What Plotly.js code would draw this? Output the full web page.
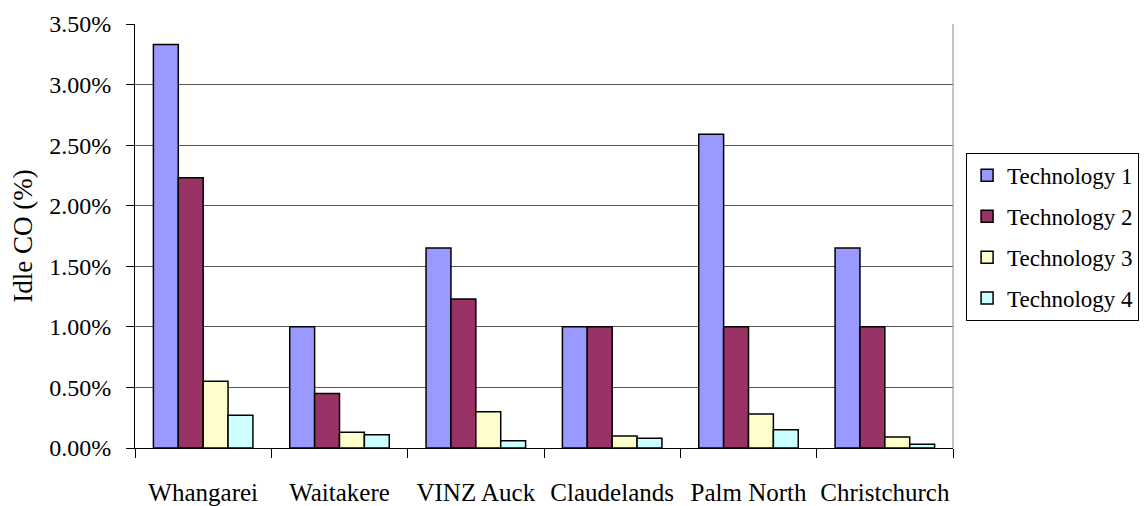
<!DOCTYPE html>
<html>
<head>
<meta charset="utf-8">
<script src="https://cdn.plot.ly/plotly-3.0.1.min.js"></script>
<style>html,body{margin:0;padding:0;background:#fff;}#chart{width:1145px;height:506px;}</style>
</head>
<body>
<div id="chart"></div>
<script>
const sites = ["Whangarei", "Waitakere", "VINZ Auck", "Claudelands", "Palm North", "Christchurch"];
const seriesNames = ["Technology 1", "Technology 2", "Technology 3", "Technology 4"];
const tech1 = [0.0333, 0.0100, 0.0165, 0.0100, 0.0259, 0.0165];
const tech2 = [0.0223, 0.0045, 0.0123, 0.0100, 0.0100, 0.0100];
const tech3 = [0.0055, 0.0013, 0.0030, 0.0010, 0.0028, 0.0009];
const tech4 = [0.0027, 0.0011, 0.0006, 0.0008, 0.0015, 0.0003];
const yTicks = [0, 0.005, 0.01, 0.015, 0.02, 0.025, 0.03, 0.035];
const colors = ["#9999FF", "#993366", "#FFFFCC", "#CCFFFF"];

const values = [tech1, tech2, tech3, tech4];
const font = "Liberation Serif";
const traces = values.map((v, i) => ({
  type: "bar",
  name: seriesNames[i],
  x: sites,
  y: v,
  legendgroup: "g" + i,
  marker: {color: colors[i], line: {color: "#000", width: 1.5}},
  hoverinfo: "x+y"
}));

const layout = {
  width: 1145, height: 506,
  margin: {l: 135, r: 192, t: 24, b: 58, autoexpand: false},
  paper_bgcolor: "#fff", plot_bgcolor: "#fff",
  barmode: "group", bargap: 0.27, bargroupgap: 0,
  font: {family: font, size: 24, color: "#000"},
  xaxis: {
    type: "category",
    tickson: "boundaries", ticks: "outside", ticklen: 9, tickcolor: "#000", tickwidth: 1,
    showline: true, linecolor: "#000", linewidth: 1,
    showgrid: false, zeroline: false,
    tickangle: 0,
    ticklabelstandoff: 22,
    tickfont: {family: font, size: 25, color: "#000"}
  },
  yaxis: {
    range: [0, 0.035],
    tickvals: yTicks, tickformat: ".2%",
    ticks: "outside", ticklen: 8, tickcolor: "#000",
    showline: true, linecolor: "#000", linewidth: 1,
    showgrid: true, gridcolor: "#555", gridwidth: 1,
    zeroline: false,
    ticklabelstandoff: 10,
    tickfont: {family: font, size: 24, color: "#000"},
    title: {text: "Idle CO (%)", font: {family: font, size: 27, color: "#000"}, standoff: 8}
  },
  legend: {
    x: 1.016, y: 0.696, xanchor: "left", yanchor: "top",
    bordercolor: "#000", borderwidth: 1, bgcolor: "#fff",
    font: {family: font, size: 23, color: "#000"},
    traceorder: "grouped", tracegroupgap: 8
  },
  shapes: [
    {type: "line", xref: "paper", yref: "paper", x0: 1, x1: 1, y0: 0, y1: 1, line: {color: "#888", width: 1}}
  ]
};

Plotly.newPlot("chart", traces, layout, {displayModeBar: false, staticPlot: true});
</script>
</body>
</html>
